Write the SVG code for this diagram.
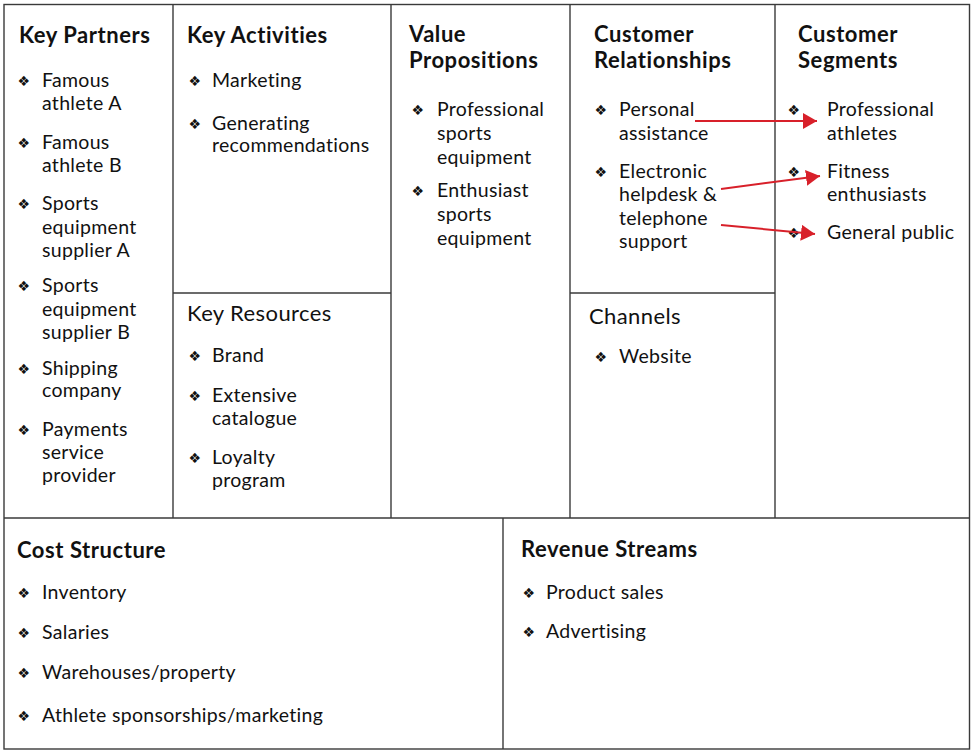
<svg xmlns="http://www.w3.org/2000/svg" width="975" height="755" viewBox="0 0 975 755">
<style>
.g{stroke:#3a3a3a;stroke-width:1.4;fill:none}
.h{font-family:Lato,"Liberation Sans",sans-serif;font-weight:bold;font-size:22px;letter-spacing:0.55px;fill:#111}
.hr{font-family:Lato,"Liberation Sans",sans-serif;font-size:22px;letter-spacing:0.4px;fill:#111}
.t{font-family:Lato,"Liberation Sans",sans-serif;font-size:19.5px;letter-spacing:0.3px;fill:#111}
.b{font-family:"DejaVu Sans",sans-serif;font-size:14px;fill:#111}
.a{stroke:#d8202a;stroke-width:2;fill:none;marker-end:url(#ah)}
</style>
<defs>
<marker id="ah" viewBox="0 0 14 16" refX="14" refY="8" markerWidth="14" markerHeight="16" markerUnits="userSpaceOnUse" orient="auto">
<path d="M0,0 L14,8 L0,16 Z" fill="#d8202a"/>
</marker>
</defs>
<rect width="975" height="755" fill="#fff"/>
<g id="grid">
<rect class="g" x="4" y="4.5" width="965.5" height="744.5"/>
<line class="g" x1="173" y1="4.5" x2="173" y2="518"/>
<line class="g" x1="391" y1="4.5" x2="391" y2="518"/>
<line class="g" x1="570" y1="4.5" x2="570" y2="518"/>
<line class="g" x1="775" y1="4.5" x2="775" y2="518"/>
<line class="g" x1="4" y1="518" x2="969.5" y2="518"/>
<line class="g" x1="173" y1="293" x2="391" y2="293"/>
<line class="g" x1="570" y1="293" x2="775" y2="293"/>
<line class="g" x1="503" y1="518" x2="503" y2="749"/>
</g>
<g id="key-partners">
<text class="h" x="19" y="43">Key Partners</text>
<text class="b" x="17.5" y="86">❖</text><text class="t" x="42" y="87">Famous</text><text class="t" x="42" y="110">athlete A</text>
<text class="b" x="17.5" y="148">❖</text><text class="t" x="42" y="149">Famous</text><text class="t" x="42" y="172">athlete B</text>
<text class="b" x="17.5" y="209">❖</text><text class="t" x="42" y="210">Sports</text><text class="t" x="42" y="234">equipment</text><text class="t" x="42" y="257">supplier A</text>
<text class="b" x="17.5" y="291">❖</text><text class="t" x="42" y="292">Sports</text><text class="t" x="42" y="316">equipment</text><text class="t" x="42" y="339">supplier B</text>
<text class="b" x="17.5" y="374">❖</text><text class="t" x="42" y="375">Shipping</text><text class="t" x="42" y="397">company</text>
<text class="b" x="17.5" y="435">❖</text><text class="t" x="42" y="436">Payments</text><text class="t" x="42" y="459">service</text><text class="t" x="42" y="482">provider</text>
</g>
<g id="key-activities">
<text class="h" x="187" y="43">Key Activities</text>
<text class="b" x="188.5" y="86">❖</text><text class="t" x="212" y="87">Marketing</text>
<text class="b" x="188.5" y="129">❖</text><text class="t" x="212" y="130">Generating</text><text class="t" x="212" y="152">recommendations</text>
</g>
<g id="key-resources">
<text class="hr" x="187" y="321">Key Resources</text>
<text class="b" x="188.5" y="361">❖</text><text class="t" x="212" y="362">Brand</text>
<text class="b" x="188.5" y="401">❖</text><text class="t" x="212" y="402">Extensive</text><text class="t" x="212" y="425">catalogue</text>
<text class="b" x="188.5" y="463">❖</text><text class="t" x="212" y="464">Loyalty</text><text class="t" x="212" y="487">program</text>
</g>
<g id="value-propositions">
<text class="h" x="409" y="42">Value</text><text class="h" x="409" y="68">Propositions</text>
<text class="b" x="411.5" y="115">❖</text><text class="t" x="437" y="116">Professional</text><text class="t" x="437" y="140">sports</text><text class="t" x="437" y="164">equipment</text>
<text class="b" x="411.5" y="196">❖</text><text class="t" x="437" y="197">Enthusiast</text><text class="t" x="437" y="221">sports</text><text class="t" x="437" y="245">equipment</text>
</g>
<g id="customer-relationships">
<text class="h" x="594" y="42">Customer</text><text class="h" x="594" y="68">Relationships</text>
<text class="b" x="594.5" y="115">❖</text><text class="t" x="619" y="116">Personal</text><text class="t" x="619" y="140">assistance</text>
<text class="b" x="594.5" y="177">❖</text><text class="t" x="619" y="178">Electronic</text><text class="t" x="619" y="201">helpdesk &amp;</text><text class="t" x="619" y="225">telephone</text><text class="t" x="619" y="248">support</text>
</g>
<g id="channels">
<text class="hr" x="589" y="324">Channels</text>
<text class="b" x="594.5" y="362">❖</text><text class="t" x="619" y="363">Website</text>
</g>
<g id="customer-segments">
<text class="h" x="798" y="42">Customer</text><text class="h" x="798" y="68">Segments</text>
<text class="b" x="787.5" y="115">❖</text><text class="t" x="827" y="116">Professional</text><text class="t" x="827" y="140">athletes</text>
<text class="b" x="787.5" y="177">❖</text><text class="t" x="827" y="178">Fitness</text><text class="t" x="827" y="201">enthusiasts</text>
<text class="b" x="787.5" y="238">❖</text><text class="t" x="827" y="239">General public</text>
</g>
<g id="cost-structure">
<text class="h" x="17" y="558">Cost Structure</text>
<text class="b" x="17.5" y="598">❖</text><text class="t" x="42" y="599">Inventory</text>
<text class="b" x="17.5" y="638">❖</text><text class="t" x="42" y="639">Salaries</text>
<text class="b" x="17.5" y="678">❖</text><text class="t" x="42" y="679">Warehouses/property</text>
<text class="b" x="17.5" y="721">❖</text><text class="t" x="42" y="722">Athlete sponsorships/marketing</text>
</g>
<g id="revenue-streams">
<text class="h" x="521" y="557">Revenue Streams</text>
<text class="b" x="522.5" y="598">❖</text><text class="t" x="546" y="599">Product sales</text>
<text class="b" x="522.5" y="637">❖</text><text class="t" x="546" y="638">Advertising</text>
</g>
<g id="connectors">
<line class="a" x1="695" y1="121" x2="817" y2="121"/>
<line class="a" x1="721" y1="189" x2="820" y2="176"/>
<line class="a" x1="721" y1="225" x2="815" y2="234"/>
</g>
</svg>
